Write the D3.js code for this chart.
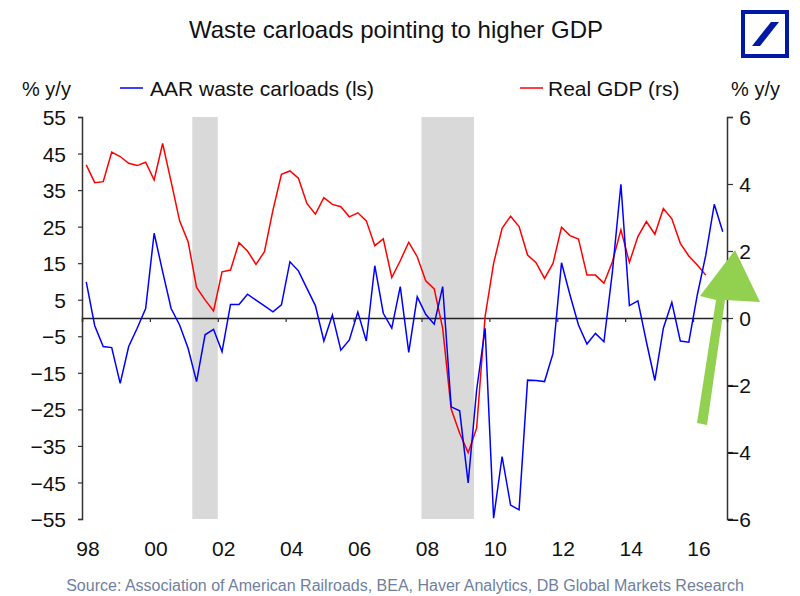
<!DOCTYPE html>
<html>
<head>
<meta charset="utf-8">
<script src="https://cdn.jsdelivr.net/npm/d3@7"></script>
<style>
  body { margin: 0; background: #fff; }
  svg text { font-family: "Liberation Sans", Arial, sans-serif; }
</style>
</head>
<body>
<div id="chart"></div>
<script>
// quarterly series, starting 1998 Q1
const startYear = 1998;
const wasteCarloads = [
  9.9, -2.1, -7.8, -8.1, -17.9, -7.8, -2.8, 2.6, 23.2, 12.7,
  2.6, -1.9, -8.3, -17.4, -4.6, -3.1, -9.2, 3.7, 3.7, 6.5,
  4.9, 3.3, 1.7, 3.6, 15.4, 12.9, 8.1, 3.4, -6.3, 0.8,
  -8.8, -6.0, 1.6, -6.3, 14.3, 1.3, -2.8, 8.6, -9.4, 5.8,
  1.0, -1.7, 8.6, -24.3, -25.4, -45.1, -19.7, -2.8, -54.8, -37.9,
  -51.2, -52.5, -17.0, -17.1, -17.4, -9.7, 15.1, 6.3, -1.9, -7.1,
  -4.2, -6.5, 12.7, 36.6, 3.4, 4.7, -6.5, -17.1, -2.8, 4.3,
  -6.3, -6.6, 6.3, 17.2, 31.1, 23.6
];
const realGdp = [
  4.57, 4.04, 4.07, 4.95, 4.82, 4.62, 4.55, 4.65, 4.12, 5.21,
  4.07, 2.90, 2.28, 0.91, 0.54, 0.21, 1.38, 1.43, 2.25, 2.00,
  1.60, 1.98, 3.22, 4.29, 4.39, 4.17, 3.42, 3.10, 3.59, 3.39,
  3.32, 3.02, 3.14, 2.90, 2.16, 2.36, 1.21, 1.71, 2.26, 1.83,
  1.11, 0.87, -0.31, -2.72, -3.44, -4.02, -3.29, 0.05, 1.63, 2.68,
  3.04, 2.73, 1.88, 1.65, 1.18, 1.63, 2.71, 2.46, 2.36, 1.28,
  1.28, 1.04, 1.68, 2.63, 1.66, 2.43, 2.88, 2.50, 3.27, 2.96,
  2.23, 1.85, 1.58, 1.28
];
const recessions = [[2001.25, 2002.0], [2008.0, 2009.55]];
const xTickYears = [1998, 2000, 2002, 2004, 2006, 2008, 2010, 2012, 2014, 2016];
const xTickLabels = ["98", "00", "02", "04", "06", "08", "10", "12", "14", "16"];
const leftTicks = [55, 45, 35, 25, 15, 5, -5, -15, -25, -35, -45, -55];
const rightTicks = [6, 4, 2, 0, -2, -4, -6];

const W = 800, H = 596;
const plot = {left: 82, right: 727, top: 117, bottom: 519};

const svg = d3.select("#chart")
  .append("svg")
    .attr("width", W)
    .attr("height", H);

const x = d3.scaleLinear().domain([1998, 2017]).range([plot.left, plot.right]);
const yL = d3.scaleLinear().domain([-55, 55]).range([plot.bottom, plot.top]);
const yR = d3.scaleLinear().domain([-6, 6]).range([plot.bottom, plot.top]);
const qDate = i => startYear + (i + 0.5) / 4;

// recession shading
svg.selectAll("rect.rec")
  .data(recessions)
  .enter()
  .append("rect")
    .attr("class", "rec")
    .attr("x", d => x(d[0]))
    .attr("y", plot.top)
    .attr("width", d => x(d[1]) - x(d[0]))
    .attr("height", plot.bottom - plot.top)
    .attr("fill", "#d9d9d9");

// left axis
const leftAxis = svg.append("g")
  .attr("transform", `translate(${plot.left},0)`)
  .call(d3.axisLeft(yL).tickValues(leftTicks).tickSize(4).tickPadding(12));
// right axis
const rightAxis = svg.append("g")
  .attr("transform", `translate(${plot.right},0)`)
  .call(d3.axisRight(yR).tickValues(rightTicks).tickSize(6).tickPadding(6));
rightAxis.selectAll("text").attr("text-anchor", "end").attr("x", 24);

[leftAxis, rightAxis].forEach(g => {
  g.select(".domain").attr("stroke", "#333").attr("stroke-width", 1.5);
  g.selectAll(".tick line").attr("stroke", "#333").attr("stroke-width", 1.2);
  g.selectAll("text")
    .style("font-size", "21px")
    .attr("fill", "#111")
    .attr("dy", "0.36em");
});

// zero line with year ticks
const xAxis = svg.append("g")
  .attr("transform", `translate(0,${yL(0)})`)
  .call(d3.axisBottom(x).tickValues(xTickYears).tickSize(4).tickFormat(""));
xAxis.select(".domain").attr("stroke", "#222").attr("stroke-width", 1.5);
xAxis.selectAll(".tick line").attr("stroke", "#333").attr("stroke-width", 1.2);

// year labels at the bottom
svg.selectAll("text.xlab")
  .data(xTickYears)
  .enter()
  .append("text")
    .attr("class", "xlab")
    .attr("x", d => x(d) + 6)
    .attr("y", 556)
    .attr("text-anchor", "middle")
    .style("font-size", "21px")
    .attr("fill", "#111")
    .text((d, i) => xTickLabels[i]);

// lines
const lineL = d3.line().x((d, i) => x(qDate(i))).y(d => yL(d));
const lineR = d3.line().x((d, i) => x(qDate(i))).y(d => yR(d));

svg.append("path")
  .datum(realGdp)
  .attr("d", lineR)
  .attr("fill", "none")
  .attr("stroke", "#ff0000")
  .attr("stroke-width", 1.5);

svg.append("path")
  .datum(wasteCarloads)
  .attr("d", lineL)
  .attr("fill", "none")
  .attr("stroke", "#0000ff")
  .attr("stroke-width", 1.5);

// green arrow
svg.append("path")
  .attr("d", "M697,423 L707,425 L725,300 L760,302 L735,250 L700,296 L716,300 Z")
  .attr("fill", "#92d050");

// title
svg.append("text")
  .attr("x", 396)
  .attr("y", 38)
  .attr("text-anchor", "middle")
  .style("font-size", "24px")
  .attr("fill", "#111")
  .text("Waste carloads pointing to higher GDP");

// legend row
const legY = 96;
svg.append("text").attr("x", 22).attr("y", legY).style("font-size", "20px").attr("fill", "#111").text("% y/y");
svg.append("text").attr("x", 780).attr("y", legY).attr("text-anchor", "end").style("font-size", "20px").attr("fill", "#111").text("% y/y");
svg.append("line").attr("x1", 120).attr("x2", 143).attr("y1", 88).attr("y2", 88).attr("stroke", "#0000ff").attr("stroke-width", 1.5);
svg.append("text").attr("x", 150).attr("y", legY).style("font-size", "21px").attr("fill", "#111").text("AAR waste carloads (ls)");
svg.append("line").attr("x1", 520).attr("x2", 543).attr("y1", 88).attr("y2", 88).attr("stroke", "#ff0000").attr("stroke-width", 1.5);
svg.append("text").attr("x", 548).attr("y", legY).style("font-size", "21px").attr("fill", "#111").text("Real GDP (rs)");

// source
svg.append("text")
  .attr("x", 405)
  .attr("y", 591)
  .attr("text-anchor", "middle")
  .style("font-size", "16px")
  .attr("fill", "#6f7f9f")
  .text("Source: Association of  American Railroads, BEA, Haver Analytics, DB Global Markets Research");

// logo
const logo = svg.append("g");
logo.append("rect").attr("x", 743).attr("y", 12).attr("width", 44).attr("height", 44)
  .attr("fill", "none").attr("stroke", "#0018a8").attr("stroke-width", 4);
logo.append("path").attr("d", "M752,46 L760,46 L779,22 L771,22 Z").attr("fill", "#0018a8");
</script>
</body>
</html>
